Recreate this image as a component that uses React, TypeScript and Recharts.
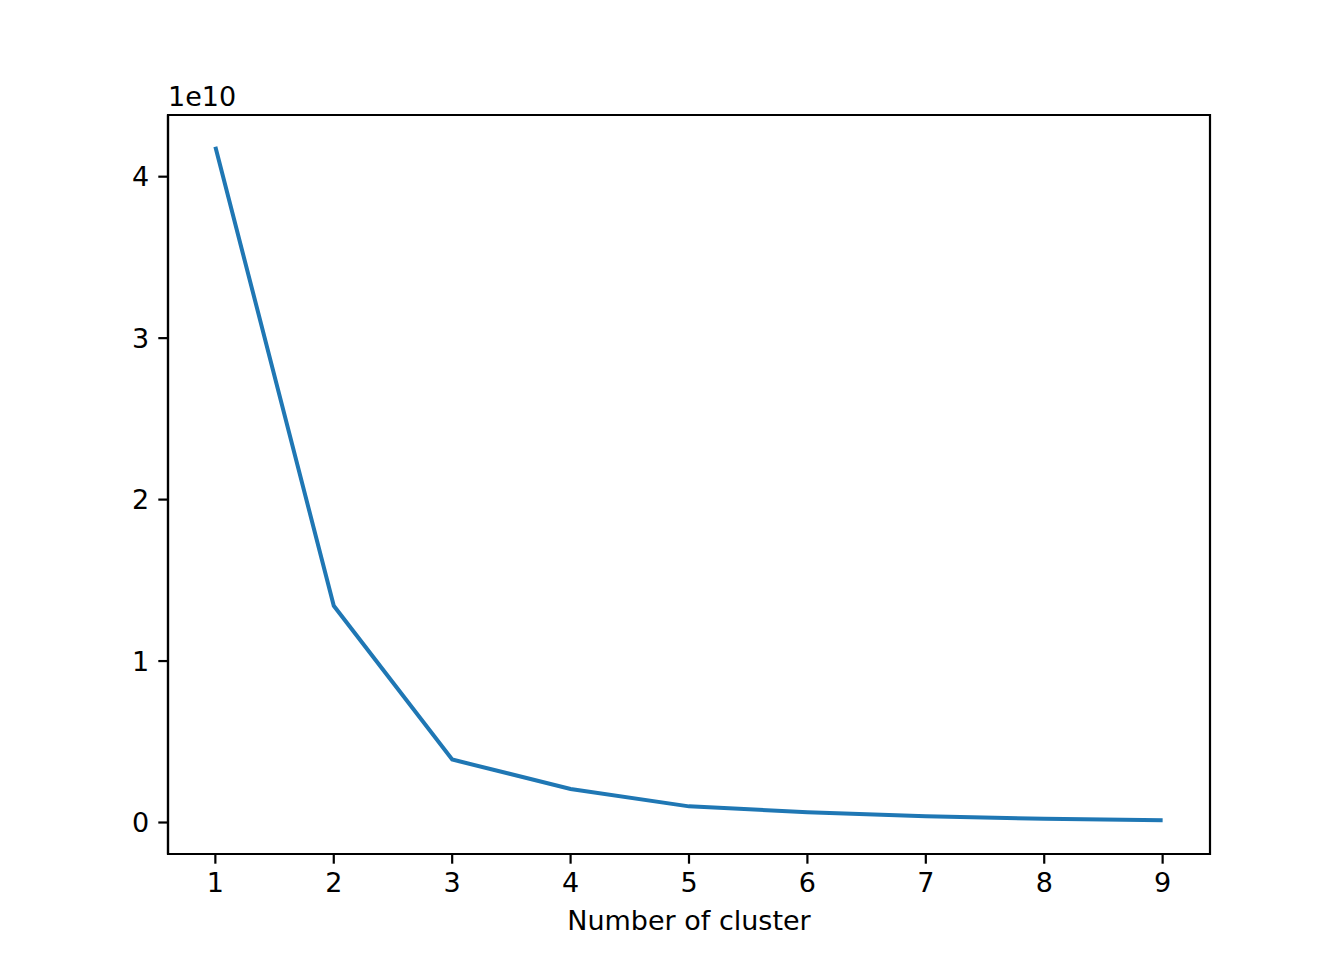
import React from 'react';
import { LineChart, Line, XAxis, YAxis, Label, ReferenceArea } from 'recharts';

// elbow curve: inertia vs number of clusters
const clusters = [1, 2, 3, 4, 5, 6, 7, 8, 9];
const inertia = [4.185e10, 1.342e10, 0.39e10, 0.208e10, 0.1e10, 0.064e10, 0.039e10, 0.023e10, 0.014e10];

const xTicks = [1, 2, 3, 4, 5, 6, 7, 8, 9];
const yTicks = [0, 1e10, 2e10, 3e10, 4e10];
const xDomain = [0.6, 9.4];
const yDomain = [-0.195e10, 4.382e10];

const data = clusters.map((k, i) => ({ k, inertia: inertia[i] }));

const FONT = '"DejaVu Sans", sans-serif';
const FS = 27;
const AXIS = { stroke: '#000', strokeWidth: 2.2 };
const TICK = { fill: '#000', fontSize: FS, fontFamily: FONT };

export default function App() {
  return (
    <div style={{ position: 'absolute', left: 0, top: 0, width: 1344, height: 960, background: '#fff' }}>
      <LineChart
        width={1344}
        height={960}
        data={data}
        margin={{ top: 115, right: 134, left: 108, bottom: 16 }}
      >
        <XAxis
          dataKey="k"
          type="number"
          domain={xDomain}
          ticks={xTicks}
          allowDataOverflow
          height={90}
          axisLine={AXIS}
          tickLine={AXIS}
          tickSize={9.7}
          tickMargin={9}
          tick={TICK}
        >
          <Label
            value="Number of cluster"
            position="insideBottom"
            offset={14}
            style={{ fill: '#000', fontSize: FS, fontFamily: FONT }}
          />
        </XAxis>
        <YAxis
          type="number"
          domain={yDomain}
          ticks={yTicks}
          allowDataOverflow
          width={60}
          axisLine={AXIS}
          tickLine={AXIS}
          tickSize={9.7}
          tickMargin={9}
          tick={TICK}
          tickFormatter={(v: number) => `${Math.round(v / 1e10)}`}
        />
        <Line
          type="linear"
          dataKey="inertia"
          stroke="#1f77b4"
          strokeWidth={4}
          dot={false}
          activeDot={false}
          isAnimationActive={false}
        />
        {/* axes frame + offset text */}
        <ReferenceArea
          x1={xDomain[0]}
          x2={xDomain[1]}
          y1={yDomain[0]}
          y2={yDomain[1]}
          fill="none"
          fillOpacity={0}
          stroke="#000"
          strokeWidth={2.2}
          strokeOpacity={1}
          ifOverflow="visible"
        >
          <Label
            content={(props: any) => {
              const vb = props.viewBox || { x: 168, y: 115 };
              return (
                <text x={vb.x} y={vb.y - 9} fill="#000" fontSize={FS} fontFamily={FONT}>
                  1e10
                </text>
              );
            }}
          />
        </ReferenceArea>
      </LineChart>
    </div>
  );
}
